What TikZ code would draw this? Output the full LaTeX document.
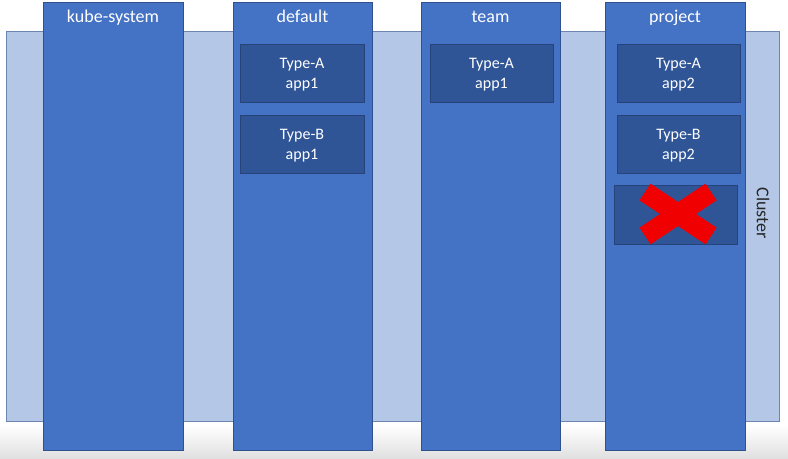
\documentclass[tikz,border=0pt]{standalone}
\usepackage{fontspec}
\setmainfont{Carlito}
\begin{document}
\begin{tikzpicture}[x=0.75pt,y=-0.75pt,
  ns/.style={draw=nsborder,fill=nsblue,line width=0.6pt},
  app/.style={fill=appblue,draw=appblue!80!black,line width=0.4pt},
  lbl/.style={text=white,anchor=base,font=\fontsize{13.5}{16}\selectfont},
  applbl/.style={text=white,align=center,font=\fontsize{12}{14.5}\selectfont}]
\definecolor{nsblue}{HTML}{4472C4}
\definecolor{nsborder}{HTML}{2F528F}
\definecolor{clusterblue}{HTML}{B4C7E7}
\definecolor{appblue}{HTML}{2F5597}
\definecolor{crossred}{HTML}{F00000}
\useasboundingbox (0,0) rectangle (788,458);
\shade[top color=white,bottom color=black!12] (0,425) rectangle (788,458);
% cluster
\draw[fill=clusterblue,draw=nsborder!70,line width=0.5pt] (6,31) rectangle (779,421);
\node[rotate=-90,text=black!85,font=\fontsize{13.5}{16}\selectfont] (cl) at (763,213) {Cluster};
% namespaces
\draw[ns] (43,2) rectangle (183,450);
\draw[ns] (233,2) rectangle (372,450);
\draw[ns] (421,2) rectangle (560,450);
\draw[ns] (605,2) rectangle (745,450);
\node[lbl] (n1) at (113,22.5) {kube-system};
\node[lbl] (n2) at (302.5,22.5) {default};
\node[lbl] (n3) at (490.5,22.5) {team};
\node[lbl] (n4) at (675,22.5) {project};
% apps
\draw[app] (240,44) rectangle (364,102);
\node[applbl] (d1) at (302,74.5) {Type-A\\app1};
\draw[app] (240,115) rectangle (364,173);
\node[applbl] (d2) at (302,145.5) {Type-B\\app1};
\draw[app] (430,44) rectangle (553,102);
\node[applbl] (t1) at (491.5,74.5) {Type-A\\app1};
\draw[app] (617,44) rectangle (740,102);
\node[applbl] (p1) at (678.5,74.5) {Type-A\\app2};
\draw[app] (617,115) rectangle (740,173);
\node[applbl] (p2) at (678.5,145.5) {Type-B\\app2};
\draw[app] (614,185) rectangle (737,244);
% red cross
\coordinate (c1) at (645,192);
\coordinate (c2) at (711,236);
\coordinate (c3) at (711,192);
\coordinate (c4) at (645,236);
\draw[crossred,line width=15pt] (c1) -- (c2);
\draw[crossred,line width=15pt] (c3) -- (c4);
\end{tikzpicture}
\end{document}
